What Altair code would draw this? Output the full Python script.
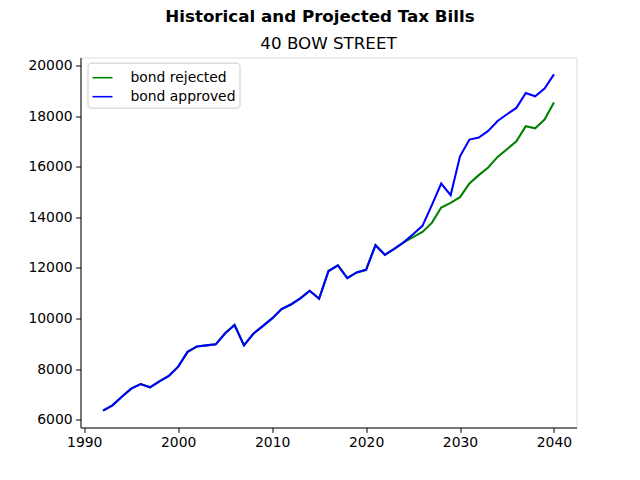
import altair as alt
import pandas as pd

years = list(range(1992, 2041))
bond_approved = [
    6370, 6580, 6920, 7235, 7420, 7290, 7525, 7735, 8105, 8690,
    8905, 8945, 8985, 9420, 9750, 8945, 9405, 9705, 10010, 10380,
    10560, 10800, 11100, 10785, 11880, 12100, 11600, 11825, 11930, 12900,
    12520, 12755, 13010, 13330, 13665, 14480, 15335, 14875, 16410, 17070,
    17150, 17410, 17805, 18070, 18320, 18910, 18780, 19080, 19645,
]
bond_rejected = [
    6370, 6580, 6920, 7235, 7420, 7290, 7525, 7735, 8105, 8690,
    8905, 8945, 8985, 9420, 9750, 8945, 9405, 9705, 10010, 10380,
    10560, 10800, 11100, 10785, 11880, 12100, 11600, 11825, 11930, 12900,
    12520, 12755, 13010, 13220, 13425, 13780, 14390, 14570, 14795, 15335,
    15665, 15965, 16385, 16690, 17005, 17595, 17515, 17860, 18530,
]
series_names = ["bond rejected", "bond approved"]
series_colors = ["green", "blue"]
main_title = "Historical and Projected Tax Bills"
sub_title = "40 BOW STREET"

df_rej = pd.DataFrame({"year": years, "value": bond_rejected, "series": series_names[0]})
df_app = pd.DataFrame({"year": years, "value": bond_approved, "series": series_names[1]})

FONT = "DejaVu Sans"

x = alt.X("year:Q", scale=alt.Scale(domain=[1989.6, 2042.4], nice=False, zero=False),
          axis=alt.Axis(values=[1990, 2000, 2010, 2020, 2030, 2040], format="d", title=None,
                        grid=False, tickSize=4.9, labelPadding=3.5, labelFontSize=13.9,
                        labelFont=FONT, labelColor="black", tickColor="black",
                        domainColor="black", labelFlush=False))
y = alt.Y("value:Q", scale=alt.Scale(domain=[5703, 20310], nice=False, zero=False),
          axis=alt.Axis(values=list(range(6000, 20001, 2000)), format="d", title=None,
                        grid=False, tickSize=4.9, labelPadding=3.5, labelFontSize=13.9,
                        labelFont=FONT, labelColor="black", tickColor="black",
                        domainColor="black", labelFlush=False))
color = alt.Color("series:N",
                  scale=alt.Scale(domain=series_names, range=series_colors),
                  legend=alt.Legend(title=None, orient="none", legendX=7, legendY=5.2,
                                    symbolType="stroke", symbolSize=400, symbolStrokeWidth=1.6,
                                    labelFont=FONT, labelFontSize=13.9, labelColor="black",
                                    labelOffset=17, rowPadding=1, padding=4,
                                    strokeColor="#cccccc", fillColor="white",
                                    cornerRadius=3))

rej = alt.Chart(df_rej).mark_line(strokeWidth=2.08).encode(x=x, y=y, color=color)
app = alt.Chart(df_app).mark_line(strokeWidth=2.08).encode(x=x, y=y, color=color)

sub = alt.Chart(pd.DataFrame({"t": [sub_title]})).mark_text(
    font=FONT, fontSize=16.7, color="black", align="center", baseline="alphabetic"
).encode(text="t:N", x=alt.value(248), y=alt.value(-8.2))

head = alt.Chart(pd.DataFrame({"t": [main_title]})).mark_text(
    font=FONT, fontSize=16.7, fontWeight="bold", color="black", align="center",
    baseline="alphabetic"
).encode(text="t:N", x=alt.value(239.5), y=alt.value(-35.8))

chart = alt.layer(rej, app, sub, head).properties(
    width=496, height=370,
    padding={"left": 72.5, "top": 49.5, "right": 55.5, "bottom": 44.5},
    autosize=alt.AutoSizeParams(type="none"),
).configure_view(stroke="black", strokeWidth=1).configure(background="white")

chart.save("out.html", embed_options={"renderer": "svg", "actions": False})
